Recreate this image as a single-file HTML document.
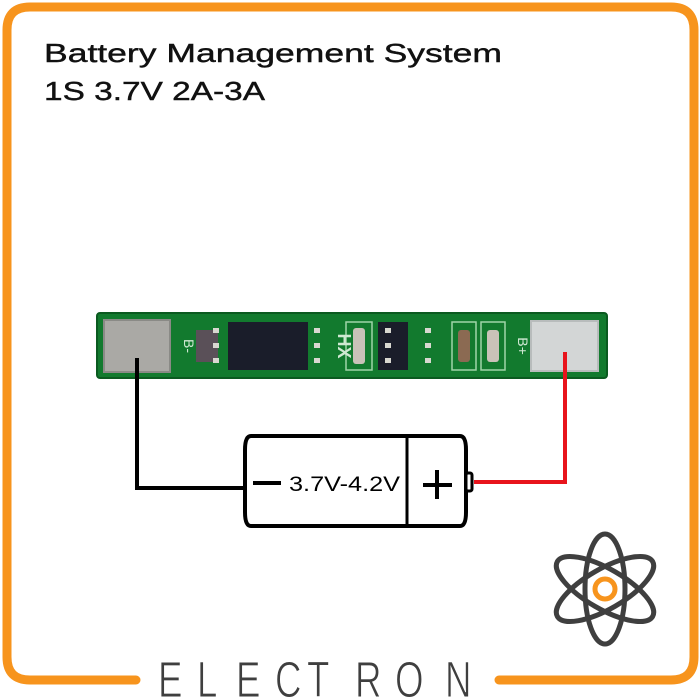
<!DOCTYPE html>
<html><head><meta charset="utf-8"><style>
html,body{margin:0;padding:0;background:#fff;}
svg{display:block;}
</style></head><body>
<svg width="700" height="700" viewBox="0 0 700 700" xmlns="http://www.w3.org/2000/svg">
<rect width="700" height="700" fill="#fff"/>
<path d="M136 680 L30 680 Q7 680 7 657 L7 30 Q7 7 30 7 L671 7 Q694 7 694 30 L694 657 Q694 680 671 680 L499 680" fill="none" stroke="#F7941D" stroke-width="9" stroke-linecap="round"/>
<text x="44" y="62" font-family="Liberation Sans, sans-serif" font-size="26" fill="#111" stroke="#111" stroke-width="0.4" textLength="458" lengthAdjust="spacingAndGlyphs">Battery Management System</text>
<text x="44" y="100" font-family="Liberation Sans, sans-serif" font-size="26" fill="#111" stroke="#111" stroke-width="0.4" textLength="221" lengthAdjust="spacingAndGlyphs">1S 3.7V 2A-3A</text>
<rect x="97" y="313" width="510" height="65" rx="3" fill="#127a2e"/>
<rect x="97" y="313" width="510" height="65" rx="3" fill="none" stroke="#0b5a20" stroke-width="2"/>
<rect x="104" y="320" width="66" height="52" fill="#aaa9a5" stroke="#8a8a86" stroke-width="2"/>
<rect x="531" y="321" width="67" height="50" fill="#d3d6d6" stroke="#b8bcbc" stroke-width="2"/>
<rect x="228" y="322" width="80" height="48" fill="#1a1d2a"/>
<rect x="378" y="322" width="30" height="48" fill="#1a1d2a"/>
<rect x="196" y="330" width="22" height="32" fill="#5a5058"/>
<rect x="346" y="322" width="26" height="48" fill="none" stroke="#9fd4a8" stroke-width="1.5"/>
<rect x="452" y="322" width="24" height="48" fill="none" stroke="#9fd4a8" stroke-width="1.5"/>
<rect x="481" y="322" width="24" height="48" fill="none" stroke="#9fd4a8" stroke-width="1.5"/>
<rect x="353" y="328" width="12" height="36" rx="3" fill="#c9c2b8"/>
<rect x="458" y="330" width="12" height="32" rx="3" fill="#8b6a52"/>
<rect x="487" y="330" width="12" height="32" rx="3" fill="#c9c2b8"/>
<g fill="#d8d8d0"><rect x="213" y="328" width="6" height="5"/><rect x="213" y="343" width="6" height="5"/><rect x="213" y="358" width="6" height="5"/>
<rect x="314" y="328" width="6" height="5"/><rect x="314" y="343" width="6" height="5"/><rect x="314" y="358" width="6" height="5"/>
<rect x="425" y="328" width="6" height="5"/><rect x="425" y="343" width="6" height="5"/><rect x="425" y="358" width="6" height="5"/>
<rect x="385" y="328" width="6" height="5"/><rect x="385" y="343" width="6" height="5"/><rect x="385" y="358" width="6" height="5"/></g>
<text x="0" y="0" transform="translate(338,346) rotate(90)" text-anchor="middle" font-family="Liberation Sans, sans-serif" font-size="18" font-weight="bold" fill="#cfe8d2">HX</text>
<text x="0" y="0" transform="translate(184,346) rotate(90)" text-anchor="middle" font-family="Liberation Sans, sans-serif" font-size="14" fill="#cfe8d2">B-</text>
<text x="0" y="0" transform="translate(518,346) rotate(90)" text-anchor="middle" font-family="Liberation Sans, sans-serif" font-size="14" fill="#cfe8d2">B+</text>
<polyline points="137,358 137,488 245,488" fill="none" stroke="#000" stroke-width="4"/>
<polyline points="565,352 565,482 474,482" fill="none" stroke="#e8141c" stroke-width="4"/>
<path d="M251 436 L460 436 Q466 436 466 450 L466 512 Q466 526 460 526 L251 526 Q245 526 245 512 L245 450 Q245 436 251 436 Z" fill="#fff" stroke="#000" stroke-width="4"/>
<line x1="407" y1="436" x2="407" y2="526" stroke="#000" stroke-width="3"/>
<rect x="466" y="473" width="6" height="18" rx="2" fill="#fff" stroke="#000" stroke-width="3"/>
<line x1="253" y1="483" x2="281" y2="483" stroke="#000" stroke-width="4"/>
<text x="289" y="491" font-family="Liberation Sans, sans-serif" font-size="21" fill="#000" textLength="111" lengthAdjust="spacingAndGlyphs">3.7V-4.2V</text>
<line x1="423" y1="485" x2="452" y2="485" stroke="#000" stroke-width="4"/>
<line x1="437" y1="470" x2="437" y2="499" stroke="#000" stroke-width="4"/>
<g transform="translate(605,589)" fill="none" stroke="#3f3f3f" stroke-width="5">
<ellipse rx="20" ry="55"/>
<ellipse rx="20" ry="55" transform="rotate(60)"/>
<ellipse rx="20" ry="55" transform="rotate(-60)"/>
<circle r="10" stroke="#F7941D" stroke-width="5"/>
</g>
<g font-family="Liberation Sans, sans-serif" font-size="51" fill="#3f3f3f" stroke="#fff" stroke-width="1">
<text transform="translate(158,697) scale(0.72,1)">E</text>
<text transform="translate(197,697) scale(0.72,1)">L</text>
<text transform="translate(236,697) scale(0.72,1)">E</text>
<text transform="translate(275,697) scale(0.72,1)">C</text>
<text transform="translate(307,697) scale(0.72,1)">T</text>
<text transform="translate(355,697) scale(0.72,1)">R</text>
<text transform="translate(395,697) scale(0.72,1)">O</text>
<text transform="translate(445,697) scale(0.72,1)">N</text>
</g>
</svg>
</body></html>
